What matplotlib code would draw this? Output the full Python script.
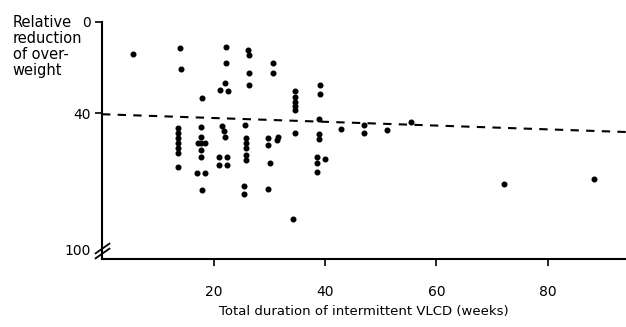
import numpy as np
import matplotlib.pyplot as plt

# Points (weeks, % reduction of overweight)
weeks = [5.5, 14.0, 14.1,
         13.6, 13.6, 13.6, 13.6, 13.6, 13.6, 13.6,
         22.2, 22.2, 22.1, 21.1, 22.6,
         26.2, 26.3, 26.3, 26.3,
         17.9, 17.8, 17.8, 17.3, 17.8, 18.5, 17.8, 17.8, 17.0, 18.5, 17.9,
         21.6, 21.8, 22.0, 20.9, 22.5, 20.9, 22.5,
         25.6, 25.9, 25.9, 25.9, 25.9, 25.9, 25.5, 25.4,
         30.7, 30.7,
         34.6, 34.6, 34.6, 34.6, 34.6,
         39.1, 39.1, 38.9, 34.6, 38.9, 38.9,
         29.8, 31.6, 31.4, 29.8, 30.2, 29.8,
         34.2, 38.6, 40.0, 38.6, 38.6,
         42.8, 47.0, 47.0, 51.1, 55.5, 72.1, 88.3]
reduction = [14.2, 11.5, 20.7,
             46.5, 48.7, 50.9, 53.1, 55.3, 57.5, 63.5,
             10.8, 18.1, 26.9, 29.8, 30.3,
             12.3, 14.5, 22.5, 27.6,
             33.5, 45.9, 50.3, 53.2, 53.2, 53.2, 56.1, 59.1, 66.1, 66.1, 73.7,
             45.6, 47.8, 50.4, 59.1, 59.1, 62.7, 62.7,
             45.2, 51.0, 53.2, 55.4, 58.3, 60.5, 72.2, 75.4,
             17.9, 22.5,
             30.3, 32.8, 35.0, 36.8, 38.6,
             27.6, 31.7, 42.7, 48.6, 49.1, 51.4,
             51.0, 50.3, 51.8, 53.9, 62.0, 73.4,
             86.4, 59.1, 60.2, 62.0, 65.7,
             47.1, 45.2, 48.6, 47.4, 44.0, 71.2, 68.9]

# dashed trend line as drawn in the figure
line_x = [0, 94]
line_y = [40.5, 48.3]

yticks = [0, 40, 100]
xticks = [20, 40, 60, 80]

plt.rcParams['font.family'] = 'DejaVu Sans'
fig = plt.figure(figsize=(6.26, 3.27), dpi=100)
ax = fig.add_axes([0.163, 0.208, 0.837, 0.725])

ax.scatter(weeks, reduction, s=11, color='black', zorder=3)
ax.plot(line_x, line_y, color='black', lw=1.5, linestyle=(0, (4, 3.5)))

ax.set_xlim(0, 94)
ax.set_ylim(104, 0)
ax.spines['top'].set_visible(False)
ax.spines['right'].set_visible(False)
for s in ['left', 'bottom']:
    ax.spines[s].set_linewidth(1.5)

ax.set_yticks(yticks)
ax.set_yticklabels([str(v) for v in yticks], fontsize=10)
ax.set_xticks(xticks)
ax.set_xticklabels([str(v) for v in xticks], fontsize=10)
ax.tick_params(axis='both', direction='out', length=5, width=1.2, pad=3)
ax.tick_params(axis='x', pad=14)
ax.yaxis.get_major_ticks()[2].tick1line.set_visible(False)

# axis break mark next to 100
ax.plot([0, 0], [99.0, 101.5], marker=[(-1, -0.7), (1, 0.7)], ms=11,
        mew=1.3, color='black', linestyle='none', clip_on=False)

ax.set_xlabel('Total duration of intermittent VLCD (weeks)', fontsize=9.5, labelpad=4)
fig.text(0.02, 0.955, 'Relative\nreduction\nof over-\nweight', fontsize=10.5,
         va='top', ha='left', linespacing=1.1)

fig.savefig('out.png', dpi=100)
